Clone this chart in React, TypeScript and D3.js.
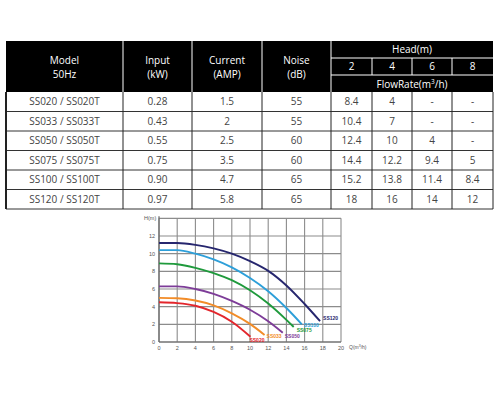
import * as d3 from "d3";

// ---- table data ----
const models = ["SS020 / SS020T", "SS033 / SS033T", "SS050 / SS050T", "SS075 / SS075T", "SS100 / SS100T", "SS120 / SS120T"];
const inputKw = ["0.28", "0.43", "0.55", "0.75", "0.90", "0.97"];
const currentAmp = ["1.5", "2", "2.5", "3.5", "4.7", "5.8"];
const noiseDb = ["55", "55", "60", "60", "65", "65"];
const headLevels = ["2", "4", "6", "8"];
const flowAtHead = [
  ["8.4", "4", "-", "-"],
  ["10.4", "7", "-", "-"],
  ["12.4", "10", "4", "-"],
  ["14.4", "12.2", "9.4", "5"],
  ["15.2", "13.8", "11.4", "8.4"],
  ["18", "16", "14", "12"],
];

// ---- curve data (Q m3/h, H m) ----
const curveNames = ["SS020", "SS033", "SS050", "SS075", "SS100", "SS120"];
const curveColors = ["#e3262c", "#f28c28", "#7d3c98", "#1f9a3c", "#2d9fd9", "#26266e"];
const curvePoints: [number, number][][] = [
  [[0, 4.5], [2, 4.4], [4, 4.1], [6, 3.4], [8, 2.3], [10.05, 0.6]],
  [[0, 5.0], [2, 4.95], [4, 4.7], [6, 4.15], [8, 3.25], [10, 2.05], [11.6, 0.8]],
  [[0, 6.3], [2, 6.3], [4, 6.0], [6, 5.45], [8, 4.65], [10, 3.65], [12, 2.35], [13.6, 1.05]],
  [[0, 8.9], [2, 8.8], [4, 8.4], [6, 7.8], [8, 7.0], [10, 5.85], [12, 4.35], [14, 2.5], [14.8, 1.7]],
  [[0, 10.4], [2, 10.4], [4, 10.0], [6, 9.35], [8, 8.45], [10, 7.25], [12, 5.75], [14, 3.85], [15.7, 2.0]],
  [[0, 11.2], [2, 11.2], [4, 11.0], [6, 10.6], [8, 10.0], [10, 9.15], [12, 8.05], [14, 6.4], [16, 4.3], [17.7, 2.35]],
];
const xTicks = d3.range(0, 21, 2);
const yTicks = d3.range(0, 13, 2);

const font = "'Open Sans', 'Noto Sans', sans-serif";

const Table = () => {
  const cols = [6, 123, 192, 262, 331, 372, 412, 452, 493];
  const headTop = 41;
  const headBottom = 92;
  const subA = 58;
  const subB = 75;
  const y = d3.scaleBand<string>().domain(models).range([headBottom, 209]);
  const cx = (i: number) => (cols[i] + cols[i + 1]) / 2;
  const mainHeads = [["Model", "50Hz"], ["Input", "(kW)"], ["Current", "(AMP)"], ["Noise", "(dB)"]];

  return (
    <g fontFamily={font}>
      <rect x={cols[0]} y={headTop} width={cols[8] - cols[0]} height={headBottom - headTop} fill="#000" />
      {[1, 2, 3, 4].map((i) => (
        <line key={i} x1={cols[i]} x2={cols[i]} y1={headTop} y2={headBottom} stroke="#fff" strokeWidth={1} />
      ))}
      {[5, 6, 7].map((i) => (
        <line key={i} x1={cols[i]} x2={cols[i]} y1={subA} y2={subB} stroke="#fff" strokeWidth={1} />
      ))}
      <line x1={cols[4]} x2={cols[8]} y1={subA} y2={subA} stroke="#fff" />
      <line x1={cols[4]} x2={cols[8]} y1={subB} y2={subB} stroke="#fff" />
      {mainHeads.map((h, i) => (
        <g key={i} fill="#fff" fontSize={10} textAnchor="middle">
          <text x={cx(i)} y={64}>{h[0]}</text>
          <text x={cx(i)} y={78}>{h[1]}</text>
        </g>
      ))}
      <text x={(cols[4] + cols[8]) / 2} y={53} fill="#fff" fontSize={10} textAnchor="middle">Head(m)</text>
      {headLevels.map((h, j) => (
        <text key={h} x={cx(4 + j)} y={70} fill="#fff" fontSize={10} textAnchor="middle">{h}</text>
      ))}
      <text x={(cols[4] + cols[8]) / 2} y={87.5} fill="#fff" fontSize={10} textAnchor="middle">
        FlowRate(m<tspan fontSize={6.5} dy={-4}>3</tspan><tspan dy={4}>/h)</tspan>
      </text>

      {models.map((m, r) => {
        const top = y(m) ?? 0;
        const cells = [m, inputKw[r], currentAmp[r], noiseDb[r], ...flowAtHead[r]];
        return (
          <g key={m}>
            {cells.map((c, i) => (
              <text key={i} x={cx(i)} y={top + y.bandwidth() / 2 + 3.5} fontSize={10} fill="#444" textAnchor="middle">
                {c}
              </text>
            ))}
            <line x1={cols[0]} x2={cols[8]} y1={top + y.bandwidth()} y2={top + y.bandwidth()} stroke="#333" strokeWidth={1} />
          </g>
        );
      })}
      {cols.map((c, i) => (
        <line key={i} x1={c} x2={c} y1={headBottom} y2={209} stroke="#222" strokeWidth={i === 0 ? 2 : 1} />
      ))}
    </g>
  );
};

const Chart = () => {
  const x = d3.scaleLinear().domain([0, 20]).range([159, 341]);
  const y = d3.scaleLinear().domain([0, 12]).range([342, 236]);
  const line = d3
    .line<[number, number]>()
    .x((d) => x(d[0]))
    .y((d) => y(d[1]))
    .curve(d3.curveMonotoneX);
  // label nudges from each curve's end point
  const labelOffsets: [number, number][] = [
    [-1, 5], [2, 3], [2, 5], [3, 5.5], [2, 2.5], [3, -1.5],
  ];

  return (
    <g fontFamily="Arial, 'Liberation Sans', sans-serif">
      {xTicks.map((t) => (
        <line key={`x${t}`} x1={x(t)} x2={x(t)} y1={y(14)} y2={y(0)} stroke="#8c8c8c" strokeWidth={1.1} />
      ))}
      {[...yTicks, 14].map((t) => (
        <line key={`y${t}`} x1={x(0)} x2={x(20)} y1={y(t)} y2={y(t)} stroke="#8c8c8c" strokeWidth={1.1} />
      ))}
      <line x1={x(0)} x2={x(0)} y1={y(14) - 2} y2={y(0)} stroke="#666" strokeWidth={1.2} />
      <line x1={x(0)} x2={x(20)} y1={y(0)} y2={y(0)} stroke="#666" strokeWidth={1.2} />
      {yTicks.map((t) => (
        <text key={`yl${t}`} x={x(0) - 4} y={y(t) + 2} fontSize={5.5} fill="#555" textAnchor="end">{t}</text>
      ))}
      {xTicks.map((t) => (
        <text key={`xl${t}`} x={x(t)} y={y(0) + 7.5} fontSize={5.5} fill="#555" textAnchor="middle">{t}</text>
      ))}
      <text x={x(0) - 15} y={y(14) + 2} fontSize={5.5} fill="#555">H(m)</text>
      <text x={x(20) + 8} y={y(0) + 7} fontSize={5} fill="#555">
        Q(m<tspan fontSize={3.5} dy={-2}>3</tspan><tspan dy={2}>/h)</tspan>
      </text>
      {curvePoints.map((pts, i) => (
        <path key={curveNames[i]} d={line(pts) ?? ""} fill="none" stroke={curveColors[i]} strokeWidth={1.9} />
      ))}
      {curvePoints.map((pts, i) => {
        const end = pts[pts.length - 1];
        return (
          <text
            key={`l${i}`}
            x={x(end[0]) + labelOffsets[i][0]}
            y={y(end[1]) + labelOffsets[i][1]}
            fontSize={5}
            fontWeight="bold"
            fill={curveColors[i]}
          >
            {curveNames[i]}
          </text>
        );
      })}
    </g>
  );
};

export default function App() {
  return (
    <svg
      width={500}
      height={400}
      viewBox="0 0 500 400"
      style={{ position: "absolute", left: 0, top: 0, background: "#fff" }}
    >
      <rect width={500} height={400} fill="#fff" />
      <Table />
      <Chart />
    </svg>
  );
}
